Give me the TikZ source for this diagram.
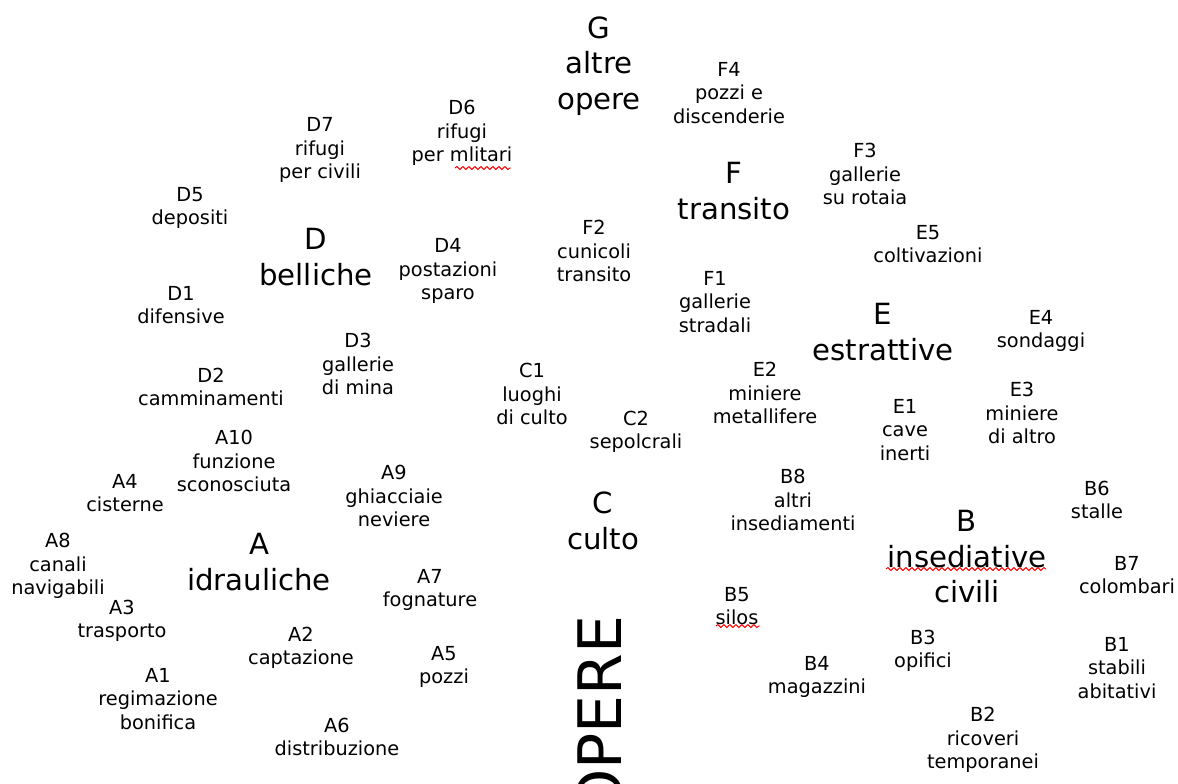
\documentclass[tikz,border=0pt]{standalone}
\usepackage{fontspec}
\setmainfont{DejaVu Sans}
\usetikzlibrary{decorations.pathmorphing}
\begin{document}
\begin{tikzpicture}[x=0.75pt,y=-0.75pt,
  sub/.style={align=center,inner sep=0pt,font=\fontsize{14.5}{17.4}\selectfont},
  cat/.style={align=center,inner sep=0pt,font=\fontsize{21.9}{26.6}\selectfont},
  spell/.style={red,line width=0.7pt,decorate,decoration={snake,amplitude=1.1pt,segment length=4.5pt}}]
\clip (0,0) rectangle (1178,783);
% classi
\node[cat] (g) at (599,66) {G\\altre\\opere};
\node[cat] (f) at (734,191) {F\\transito};
\node[cat] (d) at (316,257) {D\\belliche};
\node[cat] (e) at (883,332) {E\\estrattive};
\node[cat] (c) at (603,521) {C\\culto};
\node[cat] (b) at (967,557) {B\\insediative\\civili};
\node[cat] (a) at (259,562) {A\\idrauliche};
\node[rotate=90,inner sep=0pt,font=\fontsize{45}{54}\selectfont] (opere) at (600,716) {OPERE};
% G, F
\node[sub] (f4) at (729,93) {F4\\pozzi e\\discenderie};
\node[sub] (f3) at (865,174) {F3\\gallerie\\su rotaia};
\node[sub] (f2) at (594,251) {F2\\cunicoli\\transito};
\node[sub] (f1) at (715,302) {F1\\gallerie\\stradali};
% D
\node[sub] (d7) at (320,150) {D7\\rifugi\\per civili};
\node[sub] (d6) at (462,133) {D6\\rifugi\\per mlitari};
\node[sub] (d5) at (190,208) {D5\\depositi};
\node[sub] (d4) at (448,271) {D4\\postazioni\\sparo};
\node[sub] (d1) at (181,305) {D1\\difensive};
\node[sub] (d3) at (358,364) {D3\\gallerie\\di mina};
\node[sub] (d2) at (211,387) {D2\\camminamenti};
% E
\node[sub] (e5) at (928,244) {E5\\coltivazioni};
\node[sub] (e4) at (1041,331) {E4\\sondaggi};
\node[sub] (e2) at (765,393) {E2\\miniere\\metallifere};
\node[sub] (e3) at (1022,413) {E3\\miniere\\di altro};
\node[sub] (e1) at (905,430) {E1\\cave\\inerti};
% C
\node[sub] (c1) at (532,394) {C1\\luoghi\\di culto};
\node[sub] (c2) at (636,432) {C2\\sepolcrali};
% A
\node[sub] (a10) at (234,461) {A10\\funzione\\sconosciuta};
\node[sub] (a9) at (394,496) {A9\\ghiacciaie\\neviere};
\node[sub] (a4) at (125,493) {A4\\cisterne};
\node[sub] (a8) at (58,566) {A8\\canali\\navigabili};
\node[sub] (a7) at (430,590) {A7\\fognature};
\node[sub] (a3) at (122,621) {A3\\trasporto};
\node[sub] (a2) at (301,648) {A2\\captazione};
\node[sub] (a5) at (444,667) {A5\\pozzi};
\node[sub] (a1) at (158,699) {A1\\regimazione\\bonifica};
\node[sub] (a6) at (337,737) {A6\\distribuzione};
% B
\node[sub] (b8) at (793,500) {B8\\altri\\insediamenti};
\node[sub] (b6) at (1097,500) {B6\\stalle};
\node[sub] (b7) at (1127,575) {B7\\colombari};
\node[sub] (b5) at (737,606) {B5\\silos};
\node[sub] (b3) at (923,651) {B3\\opifici};
\node[sub] (b1) at (1117,668) {B1\\stabili\\abitativi};
\node[sub] (b4) at (817,677) {B4\\magazzini};
\node[sub] (b2) at (983,740) {B2\\ricoveri\\temporanei};
% sottolineature
\draw[spell] (455,168) -- (511,168);
\draw[spell] (886,569) -- (1046,569);
\draw[spell] (716,626) -- (760,626);
\end{tikzpicture}
\end{document}
